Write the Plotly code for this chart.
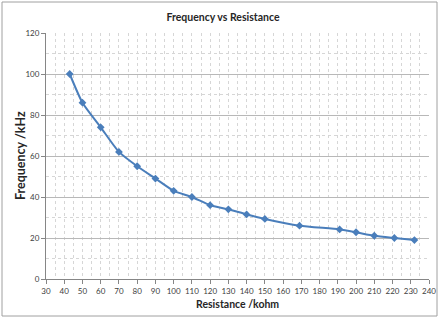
import plotly.graph_objects as go

resistance = [43, 50, 60, 70, 80, 90, 100, 110, 120, 130, 140, 150, 169, 191, 200, 210, 221, 232]
frequency = [100, 86, 74, 62, 55, 49, 43, 40, 36, 34, 31.5, 29.3, 26, 24.2, 22.8, 21.1, 20, 19]

x_ticks = list(range(30, 241, 10))
y_ticks = list(range(0, 121, 20))

FONT = "Lato"
COLOR = "#4a7ebb"
TITLE_COLOR = "#262626"

fig = go.Figure()
fig.add_trace(go.Scatter(
    x=resistance, y=frequency, mode="lines+markers",
    line=dict(color=COLOR, width=2, shape="spline", smoothing=0.6),
    marker=dict(symbol="diamond", size=6, color=COLOR),
    showlegend=False, cliponaxis=False, hoverinfo="skip",
))

L, R, T, B = 46, 10, 33, 39
W, H = 439, 318
pw, ph = W - L - R, H - T - B

fig.update_layout(
    width=W, height=H,
    margin=dict(l=L, r=R, t=T, b=B, autoexpand=False),
    paper_bgcolor="white", plot_bgcolor="white",
    font=dict(family=FONT, size=8, color="#404040"),
    title=dict(text="<b>Frequency vs Resistance</b>", x=(223 - L) / pw, xref="paper", xanchor="center",
               y=1 - 17 / H, yanchor="middle", font=dict(family=FONT, size=10.5, color=TITLE_COLOR)),
    xaxis=dict(
        range=[30, 240], tickvals=x_ticks, ticktext=[str(v) for v in x_ticks],
        automargin=False,
        showgrid=True, gridcolor="#d6d6d6", griddash="dot", gridwidth=1,
        minor=dict(dtick=5, showgrid=True, gridcolor="#d6d6d6", griddash="dot"),
        showline=True, linecolor="#868686", linewidth=1,
        ticks="outside", ticklen=4, tickcolor="#868686",
        zeroline=False, tickfont=dict(size=8, color="#404040"),
    ),
    yaxis=dict(
        range=[0, 120], tickvals=y_ticks, ticktext=[str(v) for v in y_ticks],
        automargin=False,
        showgrid=True, gridcolor="#b8b8b8", gridwidth=1,
        minor=dict(dtick=10, showgrid=True, gridcolor="#d6d6d6", griddash="dot"),
        showline=True, linecolor="#868686", linewidth=1,
        ticks="outside", ticklen=4, tickcolor="#868686",
        zeroline=False, tickfont=dict(size=8, color="#404040"),
    ),
    annotations=[
        dict(text="<b>Resistance /kohm</b>", xref="paper", yref="paper",
             x=(238 - L) / pw, y=(H - B - 304) / ph, xanchor="center", yanchor="middle",
             showarrow=False, font=dict(family=FONT, size=10.5, color=TITLE_COLOR)),
        dict(text="<b>Frequency /kHz</b>", xref="paper", yref="paper",
             x=(20 - L) / pw, y=(H - B - 155) / ph, xanchor="center", yanchor="middle",
             textangle=-90, showarrow=False, font=dict(family=FONT, size=12.5, color=TITLE_COLOR)),
    ],
)

fig.add_shape(type="rect", xref="paper", yref="paper",
              x0=(2 - L) / pw, x1=(437 - L) / pw,
              y0=(H - B - 316) / ph, y1=(H - B - 2) / ph,
              line=dict(color="#a0a0a0", width=1), layer="below")

fig.write_html("out.html", config={"displayModeBar": False},
               post_script="document.body.style.margin='0';document.body.style.overflow='hidden';")
